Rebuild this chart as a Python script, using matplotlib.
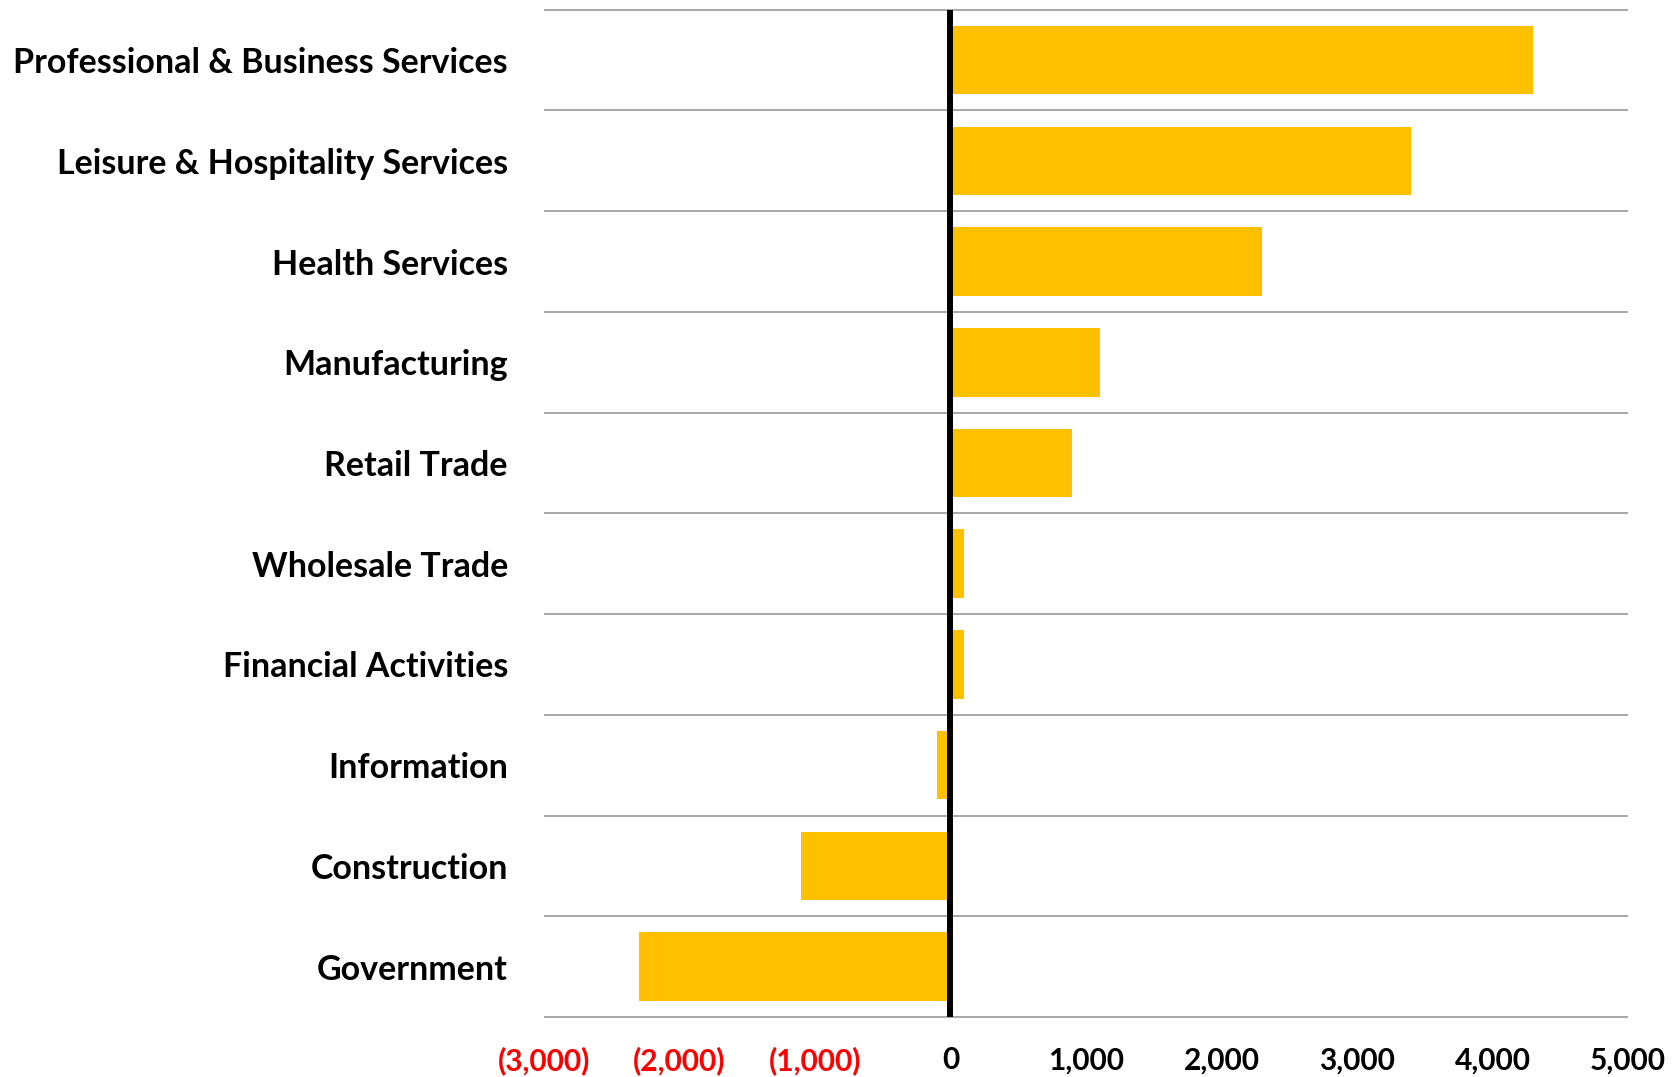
import numpy as np
import matplotlib.pyplot as plt

# Employment change by sector (thousands of jobs)
SECTORS = [
    "Professional & Business Services",
    "Leisure & Hospitality Services",
    "Health Services",
    "Manufacturing",
    "Retail Trade",
    "Wholesale Trade",
    "Financial Activities",
    "Information",
    "Construction",
    "Government",
]
CHANGE = [4300, 3400, 2300, 1100, 900, 100, 100, -100, -1100, -2300]
X_TICKS = [-3000, -2000, -1000, 0, 1000, 2000, 3000, 4000, 5000]

BAR_COLOR = "#FFC000"
FONT = ["Lato", "DejaVu Sans"]


def fmt(v):
    "Accounting-style label: negatives in parentheses."
    return f"({abs(v):,})" if v < 0 else f"{v:,}"


fig = plt.figure(figsize=(16.79, 10.77), dpi=100)
ax = fig.add_axes([0.324, 0.0557, 0.6456, 0.9353])

y = np.arange(len(SECTORS))
ax.barh(y, CHANGE, height=0.68, color=BAR_COLOR, zorder=2)

ax.set_ylim(len(SECTORS) - 0.5, -0.5)
ax.set_xlim(X_TICKS[0], X_TICKS[-1])

# row separators
bounds = np.arange(len(SECTORS) + 1) - 0.5
ax.hlines(bounds, X_TICKS[0], X_TICKS[-1], color="#a0a0a0", lw=1.3,
          zorder=1, clip_on=False)
ax.axvline(0, color="black", lw=4.3, zorder=3)

for s in ax.spines.values():
    s.set_visible(False)

ax.set_yticks(y)
ax.set_yticklabels(SECTORS, fontsize=24.5, fontweight="bold", family=FONT)
ax.set_xticks(X_TICKS)
ax.set_xticklabels([fmt(v) for v in X_TICKS], fontsize=21.5,
                   fontweight="bold", family=FONT)
for lbl, v in zip(ax.get_xticklabels(), X_TICKS):
    lbl.set_color("#ff0000" if v < 0 else "black")

ax.tick_params(axis="y", length=0, pad=26)
ax.tick_params(axis="x", length=0, pad=21)

fig.savefig("out.png", dpi=100)
plt.close(fig)
